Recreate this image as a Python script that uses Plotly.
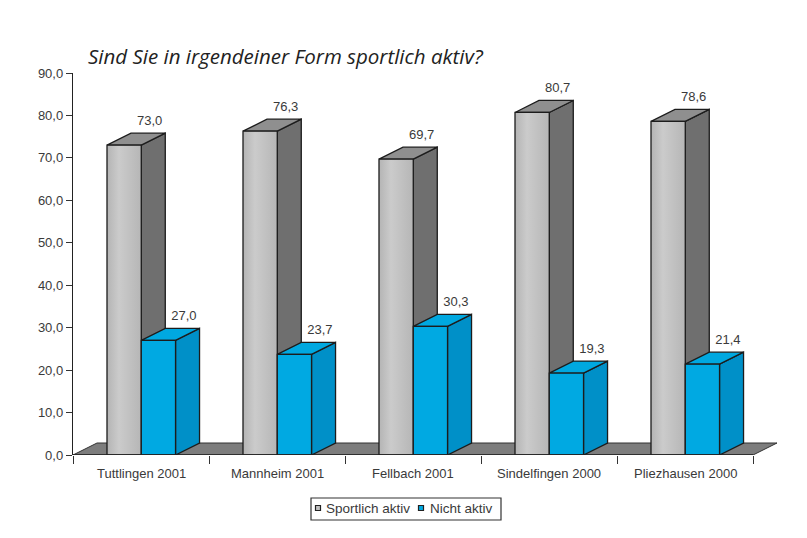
import plotly.graph_objects as go

categories = ["Tuttlingen 2001", "Mannheim 2001", "Fellbach 2001", "Sindelfingen 2000", "Pliezhausen 2000"]
aktiv = [73.0, 76.3, 69.7, 80.7, 78.6]
nicht_aktiv = [27.0, 23.7, 30.3, 19.3, 21.4]
y_ticks = [0, 10, 20, 30, 40, 50, 60, 70, 80, 90]

PAGE = 8  # the page body adds this margin around the figure
W, H = 807 - PAGE, 538 - PAGE
DEPTH_X = 24
L, R, T, B = 73 - PAGE, 54 - DEPTH_X, 73 - PAGE, 83
n = len(categories)
px_x = (W - L - R - DEPTH_X) / n
px_y = (H - T - B) / 90.0
DX = DEPTH_X / px_x  # depth in category units
DY = 12 / px_y       # depth in value units
BW = 0.252           # bar width in category units
START = 0.25

INK = "#1c1c1c"
TXT = "#3a3a3a"
FONT = "Liberation Sans"


def faces(vals, off):
    front, side, top = [], ([], []), ([], [])
    for i, v in enumerate(vals):
        x0 = i + off
        x1 = x0 + BW
        front.append(([x0, x1, x1, x0, x0], [0, 0, v, v, 0]))
        side[0].extend([x1, x1 + DX, x1 + DX, x1, x1, None])
        side[1].extend([0, DY, v + DY, v, 0, None])
        top[0].extend([x0, x1, x1 + DX, x0 + DX, x0, None])
        top[1].extend([v, v, v + DY, v + DY, v, None])
    return front, side, top


def poly(xy, color, width=1.3):
    return go.Scatter(x=xy[0], y=xy[1], mode="lines", fill="toself", fillcolor=color,
                      line=dict(color=INK, width=width), showlegend=False, hoverinfo="skip")


fig = go.Figure()

# floor
fig.add_trace(go.Scatter(x=[0, n, n + DX, DX, 0], y=[0, 0, DY, DY, 0], mode="lines", fill="toself",
                         fillcolor="#7d7d7d", line=dict(color="#333333", width=1),
                         showlegend=False, hoverinfo="skip"))

gf, gs, gt = faces(aktiv, START)
bf, bs, bt = faces(nicht_aktiv, START + BW)
fig.add_trace(poly(gs, "#6f6f6f"))
fig.add_trace(poly(gt, "#8f8f8f"))
for xs, ys in gf:
    fig.add_trace(go.Scatter(
        x=xs, y=ys, mode="lines", fill="toself",
        fillgradient=dict(type="horizontal",
                          colorscale=[[0, "#b4b4b4"], [0.35, "#cbcbcb"], [1, "#b6b6b6"]]),
        line=dict(color=INK, width=1.3), showlegend=False, hoverinfo="skip"))
fig.add_trace(poly(bs, "#0090c8"))
fig.add_trace(poly(bt, "#00a8e0"))
for xy in bf:
    fig.add_trace(poly(xy, "#00a9e2"))

# category axis line, stops at the last category while the floor runs on in depth
fig.add_trace(go.Scatter(x=[0, n], y=[0, 0], mode="lines", line=dict(color="#222222", width=1.4),
                         cliponaxis=False, showlegend=False, hoverinfo="skip"))

# value labels
for vals, off in ((aktiv, START), (nicht_aktiv, START + BW)):
    fig.add_trace(go.Scatter(
        x=[i + off + BW / 2 + DX + 1.5 / px_x for i in range(n)],
        y=[v + DY + 5 / px_y for v in vals],
        mode="text",
        text=[f"{v:.1f}".replace(".", ",") for v in vals],
        textposition="top center",
        textfont=dict(family=FONT, size=13, color=TXT),
        showlegend=False, hoverinfo="skip"))

fig.update_layout(
    width=W, height=H,
    margin=dict(l=L, r=R, t=T, b=B),
    paper_bgcolor="#ffffff", plot_bgcolor="rgba(0,0,0,0)",
    separators=",.",
    showlegend=False,
    font=dict(family=FONT, size=13, color=TXT),
    xaxis=dict(range=[0, n + DX], tickmode="array", tickvals=list(range(n + 1)), ticktext=[""] * (n + 1),
               ticks="outside", ticklen=8, tickcolor="#333333", tickwidth=1.2,
               showgrid=False, zeroline=False, showline=False),
    yaxis=dict(range=[0, 90], tickmode="array", tickvals=y_ticks, tickformat=".1f",
               ticks="outside", ticklen=6, tickcolor="#333333", tickwidth=1.2,
               showgrid=False, zeroline=False, showline=True, linecolor="#222222", linewidth=1.4,
               tickfont=dict(family=FONT, size=13, color=TXT)),
    title=dict(text="<i>Sind Sie in irgendeiner Form sportlich aktiv?</i>",
               x=(88 - PAGE) / W, xanchor="left", y=1 - (57 - PAGE) / H, yanchor="middle",
               font=dict(family="Open Sans", size=20.5, color="#222222")),
)

# category labels centred in each category
for i, c in enumerate(categories):
    fig.add_annotation(x=i + 0.5, y=0, xref="x", yref="y", yshift=-18, text=c, showarrow=False,
                       font=dict(family=FONT, size=13, color=TXT))


# legend box (screen pixel -> paper)
def xp(p): return (p - PAGE - L) / (W - L - R)
def yp(p): return (H - B - (p - PAGE)) / (H - T - B)


fig.add_shape(type="rect", xref="paper", yref="paper", x0=xp(311), x1=xp(501), y0=yp(520), y1=yp(498),
              line=dict(color="#333333", width=1.2), fillcolor="#ffffff")
for px_, col in ((318, "#c1c1c1"), (421, "#00a9e2")):
    fig.add_shape(type="rect", xref="paper", yref="paper", x0=xp(px_ - 2.5), x1=xp(px_ + 2.5),
                  y0=yp(510.5), y1=yp(505.5), line=dict(color="#222222", width=1.2), fillcolor=col)
fig.add_annotation(x=xp(324), y=yp(508), xref="paper", yref="paper", xanchor="left", yanchor="middle",
                   showarrow=False, text="Sportlich aktiv", font=dict(family=FONT, size=13.5, color=TXT))
fig.add_annotation(x=xp(428), y=yp(508), xref="paper", yref="paper", xanchor="left", yanchor="middle",
                   showarrow=False, text="Nicht aktiv", font=dict(family=FONT, size=13.5, color=TXT))

fig.write_html("out.html")
